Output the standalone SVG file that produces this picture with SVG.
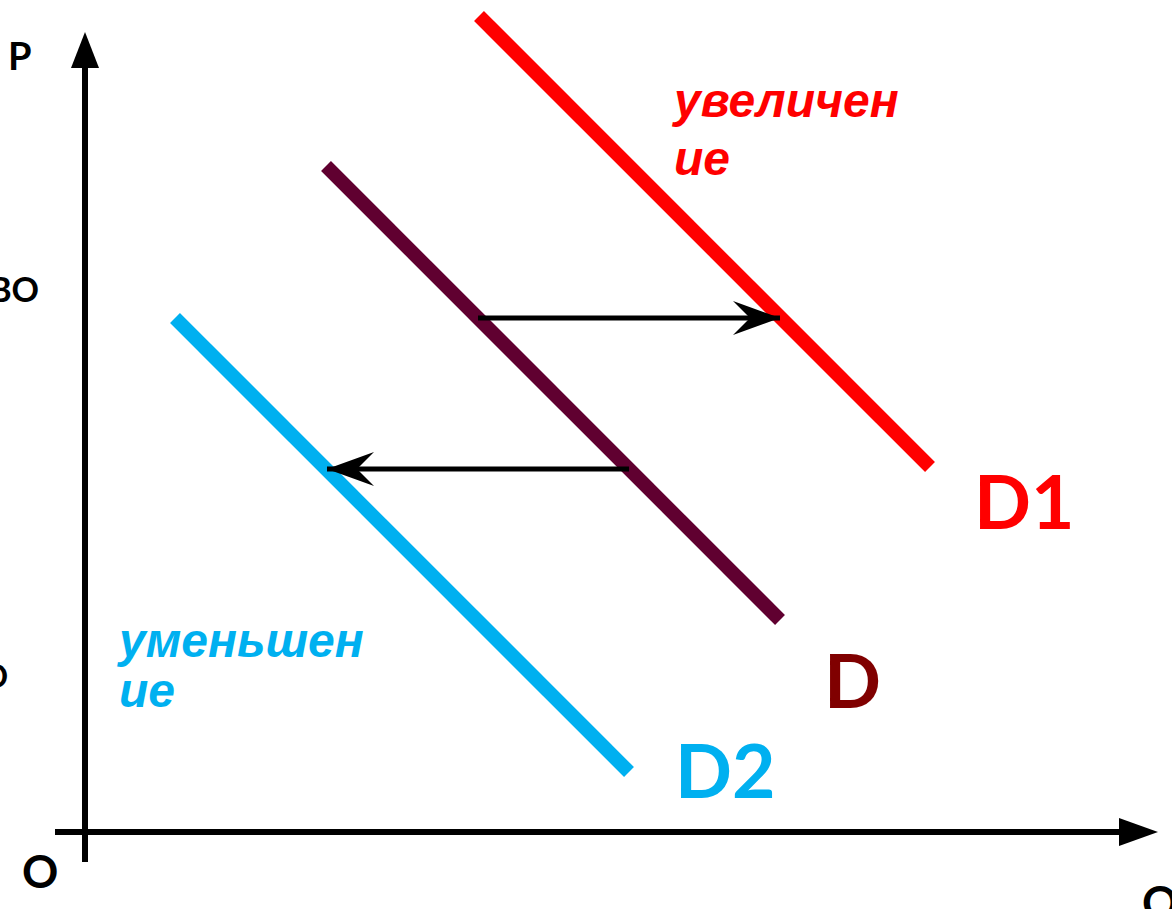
<svg xmlns="http://www.w3.org/2000/svg" width="1172" height="909" viewBox="0 0 1172 909">
<style>
.ax{stroke:#000;stroke-width:6;fill:none}
.curve{stroke-width:14;fill:none;stroke-linecap:butt}
.shift{stroke:#000;stroke-width:5;fill:none}
.lbl{font-family:Lato,"Open Sans","Liberation Sans",sans-serif;font-weight:bold}
.note{font-family:"Liberation Sans",Arial,sans-serif;font-weight:bold;font-style:italic;font-size:48px}
</style>
<defs>
<marker id="barb" markerUnits="userSpaceOnUse" markerWidth="47" markerHeight="34" viewBox="0 0 47 34" refX="47" refY="17" orient="auto">
<path d="M0,0 L47,17 L0,34 L17,17 Z" fill="#000"/>
</marker>
</defs>
<rect width="1172" height="909" fill="#fff"/>
<g id="axes">
<line class="ax" x1="85" y1="862" x2="85" y2="64"/>
<polygon points="85,32 71,68 99,68" fill="#000"/>
<line class="ax" x1="55" y1="832" x2="1122" y2="832"/>
<polygon points="1158,832 1119,818 1119,846" fill="#000"/>
</g>
<g id="curve-D1"><line class="curve" stroke="#FF0000" x1="479" y1="16" x2="930" y2="467"/></g>
<g id="curve-D"><line class="curve" stroke="#600030" x1="326" y1="166" x2="780" y2="620"/></g>
<g id="curve-D2"><line class="curve" stroke="#00B0F0" x1="175" y1="318" x2="629" y2="772"/></g>
<g id="connectors">
<line class="shift" x1="478" y1="318" x2="780" y2="318" marker-end="url(#barb)"/>
<line class="shift" x1="629" y1="469" x2="327" y2="469" marker-end="url(#barb)"/>
</g>
<g id="labels">
<text class="lbl" x="8" y="70" font-size="38">P</text>
<text class="lbl" x="39" y="302" font-size="34" text-anchor="end">ВО</text>
<text class="lbl" x="8" y="688" font-size="32" text-anchor="end">О</text>
<text class="lbl" x="22" y="888" font-size="45">O</text>
<text class="lbl" x="1142" y="919" font-size="45">Q</text>
<text class="lbl" x="974" y="529" font-size="75" fill="#FF0000">D1</text>
<text class="lbl" x="824" y="708" font-size="75" fill="#800000">D</text>
<text class="lbl" x="675" y="798" font-size="75" fill="#00B0F0">D2</text>
<text class="note" fill="#FF0000"><tspan x="674" y="117">увеличен</tspan><tspan x="674" y="175">ие</tspan></text>
<text class="note" fill="#00B0F0"><tspan x="119" y="657">уменьшен</tspan><tspan x="119" y="707">ие</tspan></text>
</g>
</svg>
